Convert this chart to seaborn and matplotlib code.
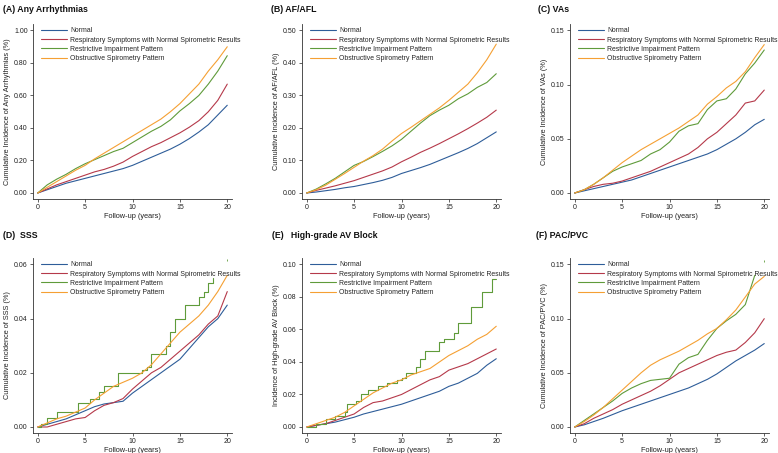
import matplotlib
matplotlib.use("Agg")
import matplotlib.pyplot as plt
import seaborn as sns
import pandas as pd

years = list(range(21))
groups = ["Normal", "Respiratory Symptoms with Normal Spirometric Results",
          "Restrictive Impairment Pattern", "Obstructive Spirometry Pattern"]
colors = ["#2e5d99", "#b5394a", "#5f9b3a", "#f5a033"]

# (A) Any Arrhythmias
a_normal = [0, 0.02, 0.04, 0.06, 0.075, 0.09, 0.105, 0.12, 0.135, 0.15, 0.17, 0.195, 0.22, 0.245, 0.27, 0.30, 0.335, 0.375, 0.42, 0.48, 0.54]
a_resp = [0, 0.025, 0.05, 0.07, 0.09, 0.11, 0.13, 0.145, 0.165, 0.19, 0.225, 0.255, 0.285, 0.31, 0.34, 0.37, 0.405, 0.445, 0.50, 0.57, 0.67]
a_restr = [0, 0.05, 0.085, 0.115, 0.15, 0.18, 0.205, 0.23, 0.255, 0.275, 0.31, 0.345, 0.38, 0.41, 0.45, 0.505, 0.55, 0.60, 0.67, 0.75, 0.845]
a_obstr = [0, 0.035, 0.07, 0.105, 0.14, 0.17, 0.21, 0.245, 0.28, 0.315, 0.35, 0.385, 0.42, 0.455, 0.50, 0.55, 0.61, 0.67, 0.75, 0.82, 0.90]

# (B) AF/AFL
b_normal = [0, 0.003, 0.007, 0.011, 0.016, 0.02, 0.026, 0.032, 0.039, 0.048, 0.06, 0.069, 0.078, 0.088, 0.10, 0.112, 0.124, 0.137, 0.152, 0.17, 0.188]
b_resp = [0, 0.008, 0.015, 0.022, 0.03, 0.038, 0.048, 0.058, 0.068, 0.08, 0.096, 0.11, 0.125, 0.138, 0.152, 0.167, 0.182, 0.198, 0.215, 0.233, 0.255]
b_restr = [0, 0.012, 0.028, 0.045, 0.065, 0.085, 0.097, 0.112, 0.128, 0.145, 0.165, 0.19, 0.215, 0.238, 0.255, 0.27, 0.29, 0.305, 0.325, 0.34, 0.367]
b_obstr = [0, 0.01, 0.024, 0.042, 0.06, 0.079, 0.098, 0.115, 0.135, 0.16, 0.183, 0.202, 0.222, 0.242, 0.262, 0.285, 0.31, 0.335, 0.37, 0.41, 0.458]

# (C) VAs
c_normal = [0, 0.002, 0.004, 0.006, 0.008, 0.010, 0.012, 0.015, 0.018, 0.021, 0.024, 0.027, 0.030, 0.033, 0.036, 0.040, 0.045, 0.050, 0.056, 0.063, 0.068]
c_resp = [0, 0.003, 0.006, 0.008, 0.009, 0.011, 0.014, 0.017, 0.020, 0.024, 0.028, 0.032, 0.036, 0.042, 0.050, 0.056, 0.064, 0.072, 0.083, 0.085, 0.095]
c_restr = [0, 0.003, 0.008, 0.014, 0.020, 0.024, 0.027, 0.030, 0.036, 0.040, 0.047, 0.057, 0.062, 0.064, 0.077, 0.085, 0.087, 0.096, 0.110, 0.120, 0.132]
c_obstr = [0, 0.003, 0.008, 0.014, 0.021, 0.028, 0.034, 0.040, 0.045, 0.050, 0.055, 0.060, 0.066, 0.072, 0.082, 0.089, 0.097, 0.103, 0.112, 0.125, 0.137]

# (D) SSS
d_normal = [0, 0.001, 0.002, 0.003, 0.0045, 0.006, 0.0075, 0.0085, 0.009, 0.0095, 0.0125, 0.015, 0.0175, 0.020, 0.0225, 0.025, 0.029, 0.033, 0.037, 0.040, 0.045]
d_resp = [0, 0.0, 0.001, 0.002, 0.003, 0.0035, 0.006, 0.008, 0.009, 0.0105, 0.014, 0.017, 0.020, 0.022, 0.025, 0.028, 0.031, 0.034, 0.038, 0.041, 0.050]
d_restr_t = [0, 0.3, 1.0, 2.0, 4.3, 5.5, 6.5, 7.0, 8.5, 11.0, 11.5, 12.0, 13.5, 14.0, 14.5, 15.5, 17.0, 17.5, 18.0, 18.5]
d_restr = [0, 0.001, 0.0035, 0.0055, 0.009, 0.0105, 0.013, 0.015, 0.020, 0.021, 0.022, 0.027, 0.030, 0.035, 0.040, 0.045, 0.048, 0.050, 0.053, 0.055]
d_restr_last = 0.0615
d_obstr = [0, 0.0015, 0.003, 0.004, 0.0055, 0.007, 0.010, 0.0125, 0.015, 0.0165, 0.018, 0.020, 0.023, 0.027, 0.031, 0.035, 0.038, 0.041, 0.045, 0.050, 0.056]

# (E) High-grade AV Block
e_normal = [0, 0.001, 0.002, 0.003, 0.0045, 0.006, 0.008, 0.0095, 0.011, 0.0125, 0.014, 0.016, 0.018, 0.020, 0.022, 0.025, 0.027, 0.030, 0.033, 0.038, 0.042]
e_resp = [0, 0.001, 0.002, 0.004, 0.006, 0.008, 0.012, 0.015, 0.016, 0.018, 0.020, 0.023, 0.026, 0.029, 0.031, 0.035, 0.037, 0.039, 0.042, 0.045, 0.048]
e_restr_t = [0, 1, 2, 3, 4, 4.3, 5.2, 5.7, 6.5, 7.5, 8.5, 9.5, 10.0, 10.5, 11.5, 12.0, 12.5, 14.0, 14.5, 15.5, 16.0, 17.3, 18.5, 19.5, 20.0]
e_restr = [0, 0.002, 0.005, 0.007, 0.009, 0.014, 0.016, 0.020, 0.023, 0.025, 0.027, 0.029, 0.030, 0.033, 0.037, 0.042, 0.047, 0.052, 0.054, 0.058, 0.064, 0.074, 0.083, 0.091, 0.091]
e_obstr = [0, 0.002, 0.004, 0.006, 0.009, 0.013, 0.017, 0.021, 0.024, 0.027, 0.029, 0.032, 0.034, 0.036, 0.040, 0.044, 0.047, 0.050, 0.054, 0.057, 0.062]

# (F) PAC/PVC
f_normal = [0, 0.002, 0.005, 0.008, 0.0115, 0.015, 0.018, 0.021, 0.024, 0.027, 0.030, 0.033, 0.036, 0.040, 0.044, 0.049, 0.055, 0.061, 0.066, 0.071, 0.077]
f_resp = [0, 0.003, 0.008, 0.012, 0.016, 0.021, 0.025, 0.029, 0.033, 0.038, 0.044, 0.050, 0.054, 0.058, 0.062, 0.066, 0.069, 0.071, 0.078, 0.087, 0.10]
f_restr = [0, 0.006, 0.012, 0.018, 0.024, 0.031, 0.036, 0.040, 0.043, 0.044, 0.045, 0.058, 0.064, 0.067, 0.080, 0.091, 0.098, 0.104, 0.113, 0.140]
f_restr_last = 0.153
f_obstr = [0, 0.005, 0.011, 0.018, 0.026, 0.034, 0.042, 0.050, 0.057, 0.062, 0.066, 0.070, 0.075, 0.080, 0.086, 0.091, 0.099, 0.108, 0.120, 0.132, 0.139]

panels = [
    ("(A) Any Arrhythmias", "Cumulative Incidence of Any Arrhythmias (%)", [0, 0.2, 0.4, 0.6, 0.8, 1.0],
     [(years, a_normal, None), (years, a_resp, None), (years, a_restr, None), (years, a_obstr, None)], None),
    ("(B) AF/AFL", "Cumulative Incidence of AF/AFL (%)", [0, 0.1, 0.2, 0.3, 0.4, 0.5],
     [(years, b_normal, None), (years, b_resp, None), (years, b_restr, None), (years, b_obstr, None)], None),
    ("(C) VAs", "Cumulative Incidence of VAs (%)", [0, 0.05, 0.10, 0.15],
     [(years, c_normal, None), (years, c_resp, None), (years, c_restr, None), (years, c_obstr, None)], None),
    ("(D)  SSS", "Cumulative Incidence of SSS (%)", [0, 0.02, 0.04, 0.06],
     [(years, d_normal, None), (years, d_resp, None), (d_restr_t, d_restr, "steps-post"), (years, d_obstr, None)], d_restr_last),
    ("(E)   High-grade AV Block", "Incidence of High-grade AV Block (%)", [0, 0.02, 0.04, 0.06, 0.08, 0.10],
     [(years, e_normal, None), (years, e_resp, None), (e_restr_t, e_restr, "steps-post"), (years, e_obstr, None)], None),
    ("(F) PAC/PVC", "Cumulative Incidence of PAC/PVC (%)", [0, 0.05, 0.10, 0.15],
     [(years, f_normal, None), (years, f_resp, None), (years[:20], f_restr, None), (years, f_obstr, None)], f_restr_last),
]

sns.set_style("white")
plt.rcParams["font.family"] = ["Liberation Sans", "DejaVu Sans"]

fig = plt.figure(figsize=(7.78, 4.53), dpi=100)
W, H = 778, 453
lefts = [33, 302, 570]
tops = [24, 258]
title_pos = [(3, 5), (271, 5), (538, 5), (3, 231), (272, 231), (536, 231)]
aw, ah = 199, 175

for i, (title, ylab, yt, series, last) in enumerate(panels):
    r, c = divmod(i, 3)
    ax = fig.add_axes([lefts[c] / W, 1 - (tops[r] + ah) / H, aw / W, ah / H])
    for g in range(4):
        t, v, ds = series[g]
        df = pd.DataFrame({"t": t, "v": v})
        kw = {"drawstyle": ds} if ds else {}
        sns.lineplot(data=df, x="t", y="v", ax=ax, color=colors[g], lw=0.8,
                     label=groups[g], estimator=None, sort=False, **kw)
    if last is not None:
        ax.plot([20], [last], marker="|", ms=2, mew=0.6, color=colors[2], ls="none")
    M = yt[-1]
    ax.set_ylim(-0.037 * M, 1.04 * M)
    ax.set_xlim(-0.5, 20.5)
    ax.set_xticks([0, 5, 10, 15, 20])
    ax.set_yticks(yt)
    ax.set_yticklabels(["{:.2f}".format(y) for y in yt])
    ax.tick_params(axis="both", labelsize=5.0, length=2.2, width=0.5, pad=1.5,
                   colors="#222222", direction="out", left=True, bottom=True)
    ax.set_xlabel("Follow-up (years)", fontsize=5.3, labelpad=1.2, color="#222222")
    ax.set_ylabel(ylab, fontsize=5.3, labelpad=2, color="#222222")
    sns.despine(ax=ax)
    for s in ["left", "bottom"]:
        ax.spines[s].set_linewidth(0.6)
        ax.spines[s].set_color("#333333")
    leg = ax.legend(loc="upper left", bbox_to_anchor=(0.025, 1.0), frameon=False,
                    fontsize=4.95, handlelength=3.7, handletextpad=0.45,
                    labelspacing=0.32, borderaxespad=0.1)
    for ln in leg.get_lines():
        ln.set_linewidth(0.8)
    fig.text(title_pos[i][0] / W, 1 - title_pos[i][1] / H, title, fontsize=6.3,
             fontweight="bold", ha="left", va="top", color="#111111")

fig.savefig("out.png", dpi=100, facecolor="white")
